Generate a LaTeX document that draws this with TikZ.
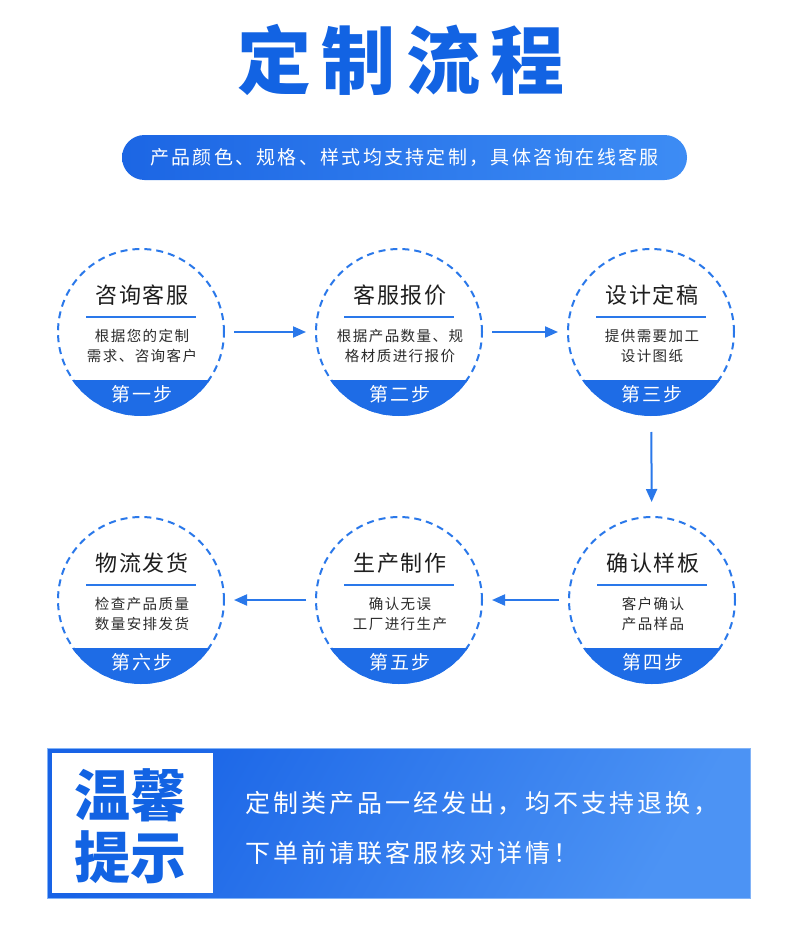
\documentclass[tikz,border=0pt]{standalone}
\usepackage{fontspec}
\setmainfont{Noto Sans CJK SC}
\newfontfamily\cjk{Noto Sans CJK SC}
\newfontfamily\cjkbody{Noto Sans CJK SC}[LetterSpace=10]
\newfontfamily\cjkhead{Noto Sans CJK SC}[LetterSpace=8]
\newfontfamily\cjktitle{Noto Sans CJK SC}[LetterSpace=14]
\newfontfamily\cjkwide{Noto Sans CJK SC}[LetterSpace=12]
\usetikzlibrary{arrows.meta}
\definecolor{mainblue}{HTML}{2A78EA}
\definecolor{segblue}{HTML}{1E6CE6}
\definecolor{titleblue}{HTML}{1263E3}
\definecolor{pillL}{HTML}{1C66E4}
\definecolor{pillR}{HTML}{3D8CF4}
\definecolor{boxA}{HTML}{1863E6}
\definecolor{boxB}{HTML}{4C93F4}
\definecolor{txtdark}{HTML}{1E1E1E}
\definecolor{txtbody}{HTML}{2B2B2B}
\tikzset{
  stepcircle/.style={circle, draw=mainblue, dash pattern=on 7pt off 5pt, line width=2pt, minimum size=166pt, inner sep=0pt, outer sep=0pt},
  circtitle/.style={font=\cjkhead\fontsize{22}{24}\selectfont, text=txtdark, inner sep=0pt},
  circbody/.style={font=\cjkbody\fontsize{14.5}{17}\selectfont, text=txtbody, inner sep=0pt},
  steplabel/.style={font=\cjkhead\fontsize{19}{21}\selectfont, text=white, inner sep=0pt},
  flowarrow/.style={draw=mainblue, line width=2pt, -{Triangle[length=13pt,width=11pt]}},
}
\begin{document}
\begin{tikzpicture}[x=1pt,y=-1pt]
\useasboundingbox (0,0) rectangle (800,942);
\fill[white] (0,0) rectangle (800,942);

% title
\node[font=\cjktitle\bfseries\fontsize{74}{80}\selectfont, text=titleblue, inner sep=0pt] (title) at (401,60) {定制流程};

% banner pill
\node[minimum width=565pt, minimum height=45pt, rounded corners=22.5pt, left color=pillL, right color=pillR, inner sep=0pt,
      font=\cjkwide\fontsize{19}{22}\selectfont, text=white] (banner) at (404.5,157.5) {产品颜色、规格、样式均支持定制，具体咨询在线客服};

% circles
\foreach \n/\x/\y/\t/\a/\b/\s in {
  c1/141/332/咨询客服/根据您的定制/需求、咨询客户/第一步,
  c2/399/332/客服报价/根据产品数量、规/格材质进行报价/第二步,
  c3/651/332/设计定稿/提供需要加工/设计图纸/第三步,
  c4/652/600/确认样板/客户确认/产品样品/第四步,
  c5/399/600/生产制作/确认无误/工厂进行生产/第五步,
  c6/141/600/物流发货/检查产品质量/数量安排发货/第六步}{
  \node[stepcircle] (\n) at (\x,\y) {};
  \begin{scope}
    \clip (\x,\y) circle (84pt);
    \fill[segblue] (\x-90,\y+48) rectangle (\x+90,\y+90);
  \end{scope}
  \node[circtitle] (\n t) at (\x+1,\y-37) {\t};
  \draw[mainblue, line width=1.6pt] (\x-55,\y-15) -- (\x+55,\y-15);
  \node[circbody] (\n a) at (\x+1,\y+4) {\a};
  \node[circbody] (\n b) at (\x+1,\y+24) {\b};
  \node[steplabel] (\n s) at (\x+1,\y+62) {\s};
}

% arrows
\draw[flowarrow, shorten <=10pt, shorten >=10pt] (c1) -- (c2);
\draw[flowarrow, shorten <=10pt, shorten >=10pt] (c2) -- (c3);
\draw[flowarrow, shorten <=17pt, shorten >=15pt] (c3) -- (c4);
\draw[flowarrow, shorten <=10pt, shorten >=10pt] (c4) -- (c5);
\draw[flowarrow, shorten <=10pt, shorten >=10pt] (c5) -- (c6);

% bottom notice box
\node[minimum width=703pt, minimum height=150pt, inner sep=0pt, shading=axis, top color=boxA, bottom color=boxB, shading angle=60, draw=boxB!70!white, line width=1pt] (notice) at (398.5,823) {};
\node[fill=white, minimum width=161pt, minimum height=140pt, inner sep=0pt] (tipbox) at (132.5,823) {};
\node[font=\cjk\bfseries\fontsize{56}{60}\selectfont, text=titleblue, inner sep=0pt] (tip1) at (130,795) {温馨};
\node[font=\cjk\bfseries\fontsize{56}{60}\selectfont, text=titleblue, inner sep=0pt] (tip2) at (130,857) {提示};
\node[font=\cjkwide\fontsize{25}{28}\selectfont, text=white, inner sep=0pt, anchor=west] (note1) at (245,803) {定制类产品一经发出，均不支持退换，};
\node[font=\cjkwide\fontsize{25}{28}\selectfont, text=white, inner sep=0pt, anchor=west] (note2) at (245,853) {下单前请联客服核对详情！};
\end{tikzpicture}
\end{document}
